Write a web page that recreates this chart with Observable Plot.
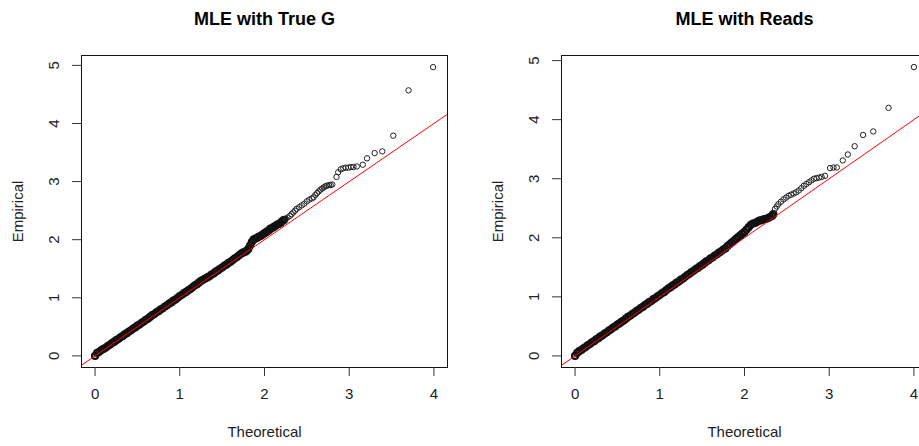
<!DOCTYPE html>
<html><head><meta charset="utf-8">
<script src="https://cdn.jsdelivr.net/npm/d3@7"></script>
<script src="https://cdn.jsdelivr.net/npm/@observablehq/plot@0.6"></script>
<style>
html,body{margin:0;padding:0;background:#fff;overflow:hidden;width:919px;height:446px;}
#wrap{position:relative;width:919px;height:446px;overflow:hidden;background:#fff;}
.panel{position:absolute;top:0;width:480px;height:446px;}
.panel svg{max-width:none !important;}
</style></head><body>
<div id="wrap"><div class="panel" id="p1" style="left:0px"></div><div class="panel" id="p2" style="left:460px"></div></div>
<script>
// ---- data ----
const titles = ["MLE with True G", "MLE with Reads"];
const xLabel = "Theoretical";
const yLabel = "Empirical";
const xTicks = [0, 1, 2, 3, 4];
const yTicks = [0, 1, 2, 3, 4, 5];
const refIntercept = 0, refSlope = 1;

// panel 1: MLE with True G  [theoretical, empirical]
// heavily over-plotted run of points (drawn as a solid band)
const trueGBand = [
 [0,0],[0.025,0.05],[0.05,0.07],[0.075,0.10],[0.1,0.12],[0.125,0.14],[0.15,0.17],[0.175,0.19],
 [0.2,0.22],[0.225,0.24],[0.25,0.27],[0.275,0.29],[0.3,0.32],[0.325,0.34],[0.35,0.37],[0.375,0.39],
 [0.4,0.42],[0.425,0.44],[0.45,0.47],[0.475,0.49],[0.5,0.52],[0.525,0.54],[0.55,0.57],[0.575,0.59],
 [0.6,0.62],[0.625,0.64],[0.65,0.67],[0.675,0.70],[0.7,0.72],[0.725,0.75],[0.75,0.77],[0.775,0.80],
 [0.8,0.82],[0.825,0.85],[0.85,0.87],[0.875,0.90],[0.9,0.92],[0.925,0.95],[0.95,0.97],[0.975,1.00],
 [1.0,1.03],[1.025,1.05],[1.05,1.08],[1.075,1.10],[1.1,1.13],[1.125,1.15],[1.15,1.18],[1.175,1.21],
 [1.2,1.23],[1.225,1.26],[1.25,1.29],[1.275,1.31],[1.3,1.33],[1.325,1.35],[1.35,1.37],[1.375,1.40],
 [1.4,1.42],[1.425,1.45],[1.45,1.47],[1.475,1.50],[1.5,1.52],[1.525,1.55],[1.55,1.57],[1.575,1.60],
 [1.6,1.62],[1.625,1.65],[1.65,1.68],[1.675,1.70],[1.7,1.73],[1.725,1.76],[1.75,1.78],[1.77,1.79],
 [1.79,1.81],[1.81,1.84],[1.83,1.90],[1.85,1.96],[1.87,2.00],[1.89,2.02],[1.91,2.03],[1.93,2.05],
 [1.95,2.06],[1.97,2.08],[1.99,2.10],[2.01,2.12],[2.03,2.14],[2.05,2.16],[2.07,2.19],[2.09,2.20],
 [2.11,2.22],[2.13,2.24],[2.15,2.26],[2.17,2.27],[2.19,2.29],[2.21,2.32],[2.23,2.34]
];
// sparser upper tail
const trueGTail = [
 [2.25,2.36],[2.27,2.38],[2.30,2.41],[2.32,2.44],[2.34,2.47],[2.36,2.50],[2.38,2.53],[2.41,2.56],
 [2.44,2.59],[2.47,2.62],[2.50,2.66],[2.53,2.69],[2.56,2.71],[2.58,2.73],[2.60,2.77],[2.62,2.80],
 [2.64,2.83],[2.66,2.86],[2.68,2.88],[2.70,2.90],[2.72,2.92],[2.74,2.93],[2.76,2.94],[2.78,2.94],
 [2.80,2.95],[2.85,3.08],[2.87,3.16],[2.90,3.21],[2.93,3.23],[2.96,3.24],[2.99,3.24],[3.02,3.25],
 [3.05,3.25],[3.09,3.26],[3.16,3.29],[3.21,3.40],[3.30,3.49],[3.39,3.52],[3.52,3.79],[3.70,4.57],
 [3.99,4.97]
];

// panel 2: MLE with Reads  [theoretical, empirical]
const readsBand = [
 [0,0],[0.025,0.05],[0.05,0.08],[0.075,0.10],[0.1,0.13],[0.125,0.15],[0.15,0.18],[0.175,0.20],
 [0.2,0.23],[0.225,0.25],[0.25,0.28],[0.275,0.30],[0.3,0.33],[0.325,0.35],[0.35,0.38],[0.375,0.40],
 [0.4,0.43],[0.425,0.45],[0.45,0.48],[0.475,0.50],[0.5,0.53],[0.525,0.55],[0.55,0.58],[0.575,0.60],
 [0.6,0.63],[0.625,0.66],[0.65,0.68],[0.675,0.71],[0.7,0.73],[0.725,0.76],[0.75,0.78],[0.775,0.81],
 [0.8,0.83],[0.825,0.86],[0.85,0.88],[0.875,0.91],[0.9,0.93],[0.925,0.96],[0.95,0.98],[0.975,1.01],
 [1.0,1.03],[1.025,1.06],[1.05,1.08],[1.075,1.11],[1.1,1.14],[1.125,1.16],[1.15,1.19],[1.175,1.21],
 [1.2,1.24],[1.225,1.26],[1.25,1.29],[1.275,1.31],[1.3,1.34],[1.325,1.37],[1.35,1.39],[1.375,1.42],
 [1.4,1.44],[1.425,1.47],[1.45,1.49],[1.475,1.52],[1.5,1.54],[1.525,1.57],[1.55,1.60],[1.575,1.62],
 [1.6,1.65],[1.625,1.67],[1.65,1.70],[1.675,1.72],[1.7,1.75],[1.725,1.77],[1.75,1.80],[1.775,1.82],
 [1.8,1.86],[1.825,1.89],[1.85,1.92],[1.875,1.95],[1.9,1.98],[1.925,2.01],[1.95,2.04],[1.975,2.07],
 [2.0,2.10],[2.025,2.14],[2.05,2.18],[2.075,2.22],[2.1,2.24],[2.125,2.25],[2.15,2.27],[2.175,2.29],
 [2.2,2.30],[2.225,2.31],[2.25,2.32],[2.275,2.33],[2.3,2.35],[2.325,2.37],[2.34,2.40]
];
const readsTail = [
 [2.36,2.49],[2.38,2.53],[2.40,2.57],[2.43,2.61],[2.46,2.65],[2.49,2.68],[2.52,2.71],[2.55,2.73],
 [2.58,2.75],[2.61,2.77],[2.64,2.80],[2.67,2.84],[2.70,2.88],[2.73,2.91],[2.76,2.94],[2.79,2.97],
 [2.82,3.00],[2.85,3.01],[2.88,3.02],[2.91,3.03],[2.95,3.05],[3.01,3.18],[3.05,3.19],[3.09,3.19],
 [3.16,3.31],[3.22,3.41],[3.30,3.55],[3.40,3.74],[3.52,3.80],[3.70,4.20],[4.00,4.89]
];

const xDomain = [-0.16, 4.16];
const yDomains = [[-0.2, 5.17], [-0.196, 5.086]];

function panel(title, band, tail, yDomain, marginLeft, width) {
  const refLine = xDomain.map(x => ({x, y: refIntercept + refSlope * x}));
  const font = "'Liberation Sans', Arial, sans-serif";
  return Plot.plot({
    width, height: 446,
    marginLeft, marginRight: width - marginLeft - 366, marginTop: 55, marginBottom: 79,
    x: {domain: xDomain},
    y: {domain: yDomain},
    style: {fontFamily: font, background: "white", overflow: "visible", maxWidth: "none"},
    marks: [
      Plot.dot(band, {x: d => d[0], y: d => d[1], r: 3, stroke: "#111", strokeWidth: 2.2, fill: "none"}),
      Plot.dot(tail, {x: d => d[0], y: d => d[1], r: 2.7, stroke: "#222", strokeWidth: 1, fill: "none"}),
      Plot.line(refLine, {x: "x", y: "y", stroke: "#ff0000", strokeWidth: 1, clip: true}),
      Plot.frame({stroke: "#111"}),
      Plot.axisX(xTicks, {tickSize: 9, tickFormat: () => "", label: null, stroke: "#333"}),
      Plot.axisY(yTicks, {tickSize: 9, tickFormat: () => "", label: null, stroke: "#333"}),
      Plot.text(xTicks, {x: d => d, text: d => String(d), frameAnchor: "bottom", dy: 27, lineAnchor: "middle", fontSize: 15, fill: "#222"}),
      Plot.text(yTicks, {y: d => d, text: d => String(d), frameAnchor: "left", dx: -27, rotate: -90, textAnchor: "middle", lineAnchor: "middle", fontSize: 15, fill: "#222"}),
      Plot.text([title], {text: d => d, frameAnchor: "top", dy: -36.5, lineAnchor: "middle", fontSize: 18, fontWeight: "bold", fill: "black"}),
      Plot.text([xLabel], {text: d => d, frameAnchor: "bottom", dy: 64.5, lineAnchor: "middle", fontSize: 15, fill: "#222"}),
      Plot.text([yLabel], {text: d => d, frameAnchor: "left", dx: -63, rotate: -90, textAnchor: "middle", lineAnchor: "middle", fontSize: 15, fill: "#222"})
    ]
  });
}

document.getElementById("p1").append(panel(titles[0], trueGBand, trueGTail, yDomains[0], 81, 460));
document.getElementById("p2").append(panel(titles[1], readsBand, readsTail, yDomains[1], 101, 480));
</script>
</body></html>
